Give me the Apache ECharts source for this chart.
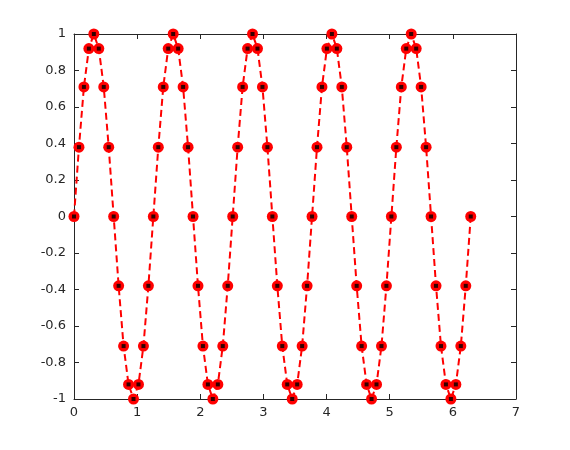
<!DOCTYPE html>
<html><head><meta charset="utf-8">
<script src="https://cdn.jsdelivr.net/npm/echarts@6/dist/echarts.min.js"></script>
<style>html,body{margin:0;padding:0;background:#fff}#c{width:570px;height:450px}</style>
</head><body><div id="c"></div>
<script>
const xValues = [0,0.0785,0.1571,0.2356,0.3142,0.3927,0.4712,0.5498,0.6283,0.7069,0.7854,0.8639,0.9425,1.0210,1.0996,1.1781,1.2566,1.3352,1.4137,1.4923,1.5708,1.6493,1.7279,1.8064,1.8850,1.9635,2.0420,2.1206,2.1991,2.2777,2.3562,2.4347,2.5133,2.5918,2.6704,2.7489,2.8274,2.9060,2.9845,3.0631,3.1416,3.2201,3.2987,3.3772,3.4558,3.5343,3.6128,3.6914,3.7699,3.8485,3.9270,4.0055,4.0841,4.1626,4.2412,4.3197,4.3982,4.4768,4.5553,4.6339,4.7124,4.7909,4.8695,4.9480,5.0265,5.1051,5.1836,5.2622,5.3407,5.4193,5.4978,5.5763,5.6549,5.7334,5.8119,5.8905,5.9690,6.0476,6.1261,6.2046,6.2832];
const yValues = [0,0.38,0.71,0.92,1,0.92,0.71,0.38,0,-0.38,-0.71,-0.92,-1,-0.92,-0.71,-0.38,
 0,0.38,0.71,0.92,1,0.92,0.71,0.38,0,-0.38,-0.71,-0.92,-1,-0.92,-0.71,-0.38,
 0,0.38,0.71,0.92,1,0.92,0.71,0.38,0,-0.38,-0.71,-0.92,-1,-0.92,-0.71,-0.38,
 0,0.38,0.71,0.92,1,0.92,0.71,0.38,0,-0.38,-0.71,-0.92,-1,-0.92,-0.71,-0.38,
 0,0.38,0.71,0.92,1,0.92,0.71,0.38,0,-0.38,-0.71,-0.92,-1,-0.92,-0.71,-0.38,
 0];
const xTicks = [0,1,2,3,4,5,6,7];
const yTicks = [-1,-0.8,-0.6,-0.4,-0.2,0,0.2,0.4,0.6,0.8,1];

const pts = xValues.map((x,i)=>[x,yValues[i]]);
const font = 'DejaVu Sans';
function axisCommon(){
  return {
    axisLine:{show:true,onZero:false,lineStyle:{color:'#262626',width:1}},
    axisTick:{show:true,inside:true,length:5,lineStyle:{color:'#262626'}},
    splitLine:{show:false}
  };
}
const chart = echarts.init(document.getElementById('c'),null,{renderer:'canvas'});
chart.setOption({
  animation:false,
  backgroundColor:'#fff',
  grid:{left:74,right:54,top:34,bottom:51,containLabel:false},
  xAxis:[
    Object.assign({type:'value',min:xTicks[0],max:xTicks[xTicks.length-1],interval:1,position:'bottom',
      axisLabel:{color:'#262626',fontFamily:font,fontSize:13,margin:7,formatter:v=>String(v)}},axisCommon()),
    Object.assign({type:'value',min:xTicks[0],max:xTicks[xTicks.length-1],interval:1,position:'top',axisLabel:{show:false}},axisCommon())
  ],
  yAxis:[
    Object.assign({type:'value',min:yTicks[0],max:yTicks[yTicks.length-1],interval:0.2,position:'left',
      axisLabel:{color:'#262626',fontFamily:font,fontSize:13,margin:8,formatter:v=>String(Math.round(v*10)/10)}},axisCommon()),
    Object.assign({type:'value',min:yTicks[0],max:yTicks[yTicks.length-1],interval:0.2,position:'right',axisLabel:{show:false}},axisCommon())
  ],
  series:[
    {type:'line',data:pts,xAxisIndex:0,yAxisIndex:0,
     lineStyle:{color:'#ff0000',width:2,type:[7,4]},
     symbol:'circle',symbolSize:11,itemStyle:{color:'#ff0000'},showSymbol:true,z:2},
    {type:'scatter',data:pts,xAxisIndex:0,yAxisIndex:0,
     symbol:'rect',symbolSize:4,itemStyle:{color:'#000'},z:3}
  ]
});
</script></body></html>
